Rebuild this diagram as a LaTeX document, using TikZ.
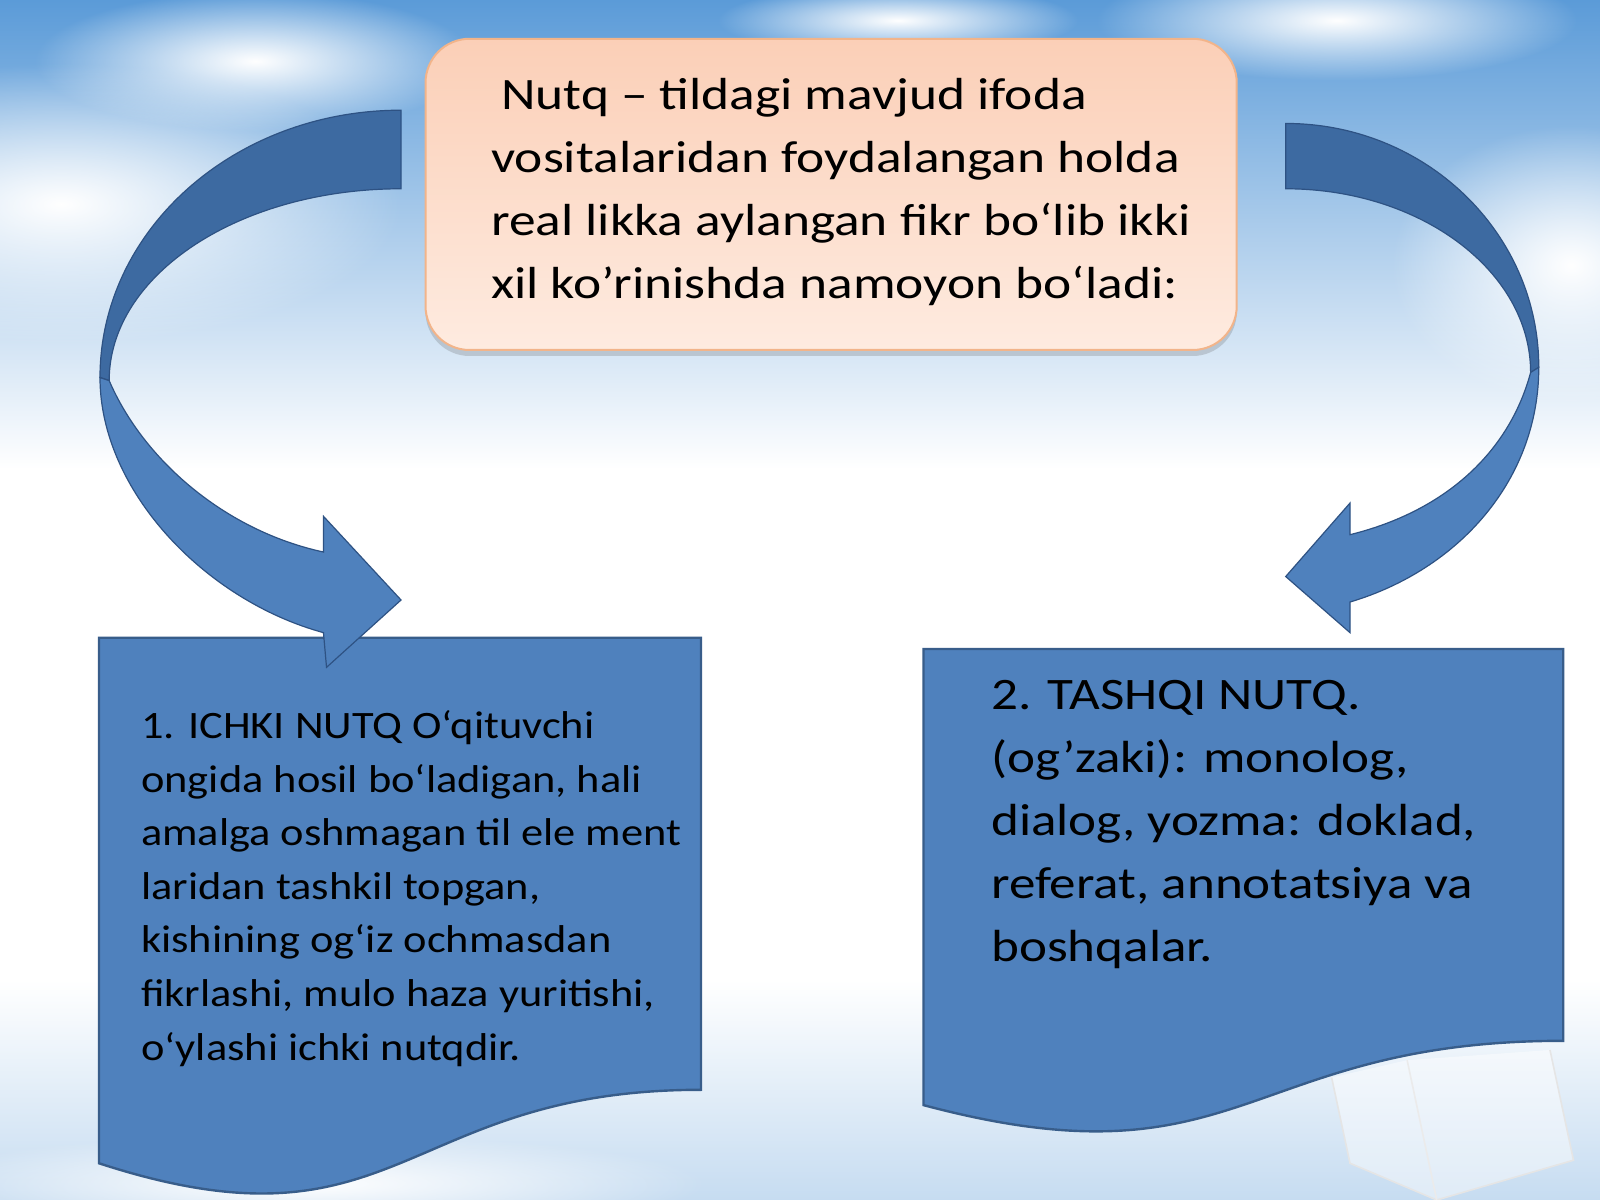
\documentclass[tikz,border=0pt]{standalone}
\usepackage{fontspec}
\setmainfont{Carlito}
\newfontfamily\topfont{Carlito}[FakeStretch=1.19]
\newfontfamily\leftfont{Carlito}[FakeStretch=1.145]
\newfontfamily\rightfont{Carlito}[FakeStretch=1.18]
\usetikzlibrary{fadings,shadows}
\tikzfading[name=softcloud, inner color=transparent!0, outer color=transparent!100]
\definecolor{docblue}{HTML}{4F81BD}
\definecolor{docedge}{HTML}{385D8A}
\definecolor{backband}{HTML}{3D6AA1}
\definecolor{arrowedge}{HTML}{2E5283}
\definecolor{skyblue}{HTML}{5B9BD8}
\definecolor{skylow}{HTML}{C6DCF1}
\definecolor{peachtop}{HTML}{FBCFB7}
\definecolor{peachbot}{HTML}{FEEBE0}
\definecolor{peachedge}{HTML}{F2B48A}
\tikzset{
  cloud/.style={white, path fading=softcloud},
  docshape/.style={fill=docblue, draw=docedge, line width=1.2pt},
  backstyle/.style={fill=backband, draw=arrowedge, line width=0.6pt},
  frontstyle/.style={fill=docblue, draw=arrowedge, line width=0.6pt},
  topbox/.style={rounded corners=22pt, draw=peachedge, line width=1pt,
    top color=peachtop, bottom color=peachbot,
    minimum width=405.6pt, minimum height=155.6pt, inner sep=0pt,
    drop shadow={shadow xshift=0pt, shadow yshift=-3pt, opacity=0.25, fill=black!60}},
  txt/.style={anchor=north west, inner sep=0pt, align=left, text=black},
}
\begin{document}
\begin{tikzpicture}[x=0.510204pt,y=-0.510204pt]
\useasboundingbox (0,0) rectangle (1568,1176);
% ---------- background ----------
\fill[white] (0,0) rectangle (1568,1176);
\shade[top color=skyblue, bottom color=white] (0,0) rectangle (1568,460);
\fill[cloud] (60,200) ellipse [x radius=170pt, y radius=70pt];
\fill[cloud] (250,60) ellipse [x radius=110pt, y radius=35pt];
\fill[cloud] (1310,20) ellipse [x radius=120pt, y radius=30pt];
\fill[cloud] (1540,260) ellipse [x radius=90pt, y radius=70pt];
\fill[cloud] (880,20) ellipse [x radius=90pt, y radius=18pt];
\shade[top color=white, bottom color=skylow] (0,960) rectangle (1568,1176);
\fill[cloud] (300,1160) ellipse [x radius=200pt, y radius=25pt];
% glass cube
\fill[white, opacity=0.45] (1305,1056) -- (1379,1039) -- (1519,1029) -- (1542,1137) -- (1408,1176) -- (1323,1140) -- cycle;
\draw[black!10, line width=0.8pt] (1305,1056) -- (1323,1140) -- (1408,1176) -- (1542,1137) -- (1519,1029);
\draw[black!8, line width=0.8pt] (1379,1039) -- (1408,1176);
% ---------- top box ----------
\node[topbox] (def) at (814.5,190.5) {};
\node[txt, font=\topfont\fontsize{22.45}{31.6}\selectfont] (deftext) at (481,76)
 {\hspace*{5pt}Nutq – tildagi mavjud ifoda\\
  vositalaridan foydalangan holda\\
  real likka aylangan fikr bo‘lib ikki\\
  xil ko’rinishda namoyon bo‘ladi:};
% ---------- documents ----------
\draw[docshape] (97,625) -- (687,625) -- (687,1068)
  .. controls (392,1068) and (392,1236) .. (97,1140) -- cycle;
\draw[docshape] (905,636) -- (1532,636) -- (1532,1020)
  .. controls (1218.5,1020) and (1218.5,1166.5) .. (905,1083) -- cycle;
\node[txt, font=\leftfont\fontsize{19.4}{26.8}\selectfont] (inner) at (138,696)
 {1. ICHKI NUTQ O‘qituvchi\\
  ongida hosil bo‘ladigan, hali\\
  amalga oshmagan til ele ment\\
  laridan tashkil topgan,\\
  kishining og‘iz ochmasdan\\
  fikrlashi, mulo haza yuritishi,\\
  o‘ylashi ichki nutqdir.};
\node[txt, font=\rightfont\fontsize{22.5}{31.6}\selectfont] (outer) at (971,666)
 {2. TASHQI NUTQ.\\
  (og’zaki): monolog,\\
  dialog, yozma: doklad,\\
  referat, annotatsiya va\\
  boshqalar.};
% ---------- left curved arrow ----------
\draw[backstyle] (393,108) .. controls (230,108) and (98,225) .. (98,370)
  -- (107,373) .. controls (107,269) and (235,185) .. (393,185) -- cycle;
\draw[frontstyle] (98,370) .. controls (98,480) and (200,588) .. (317,620)
  -- (320,654) -- (393,588) -- (317,506) -- (317,541)
  .. controls (220,520) and (140,450) .. (107,373) -- cycle;
% ---------- right curved arrow ----------
\draw[backstyle] (1260,121) .. controls (1397,121) and (1508,228) .. (1508,360)
  -- (1500,365) .. controls (1500,266) and (1392.5,185) .. (1260,185) -- cycle;
\draw[frontstyle] (1508,360) .. controls (1508,470) and (1430,558) .. (1323,590)
  -- (1323,620) -- (1260,565) -- (1323,493) -- (1323,524)
  .. controls (1420,500) and (1480,440) .. (1500,365) -- cycle;
\end{tikzpicture}
\end{document}
